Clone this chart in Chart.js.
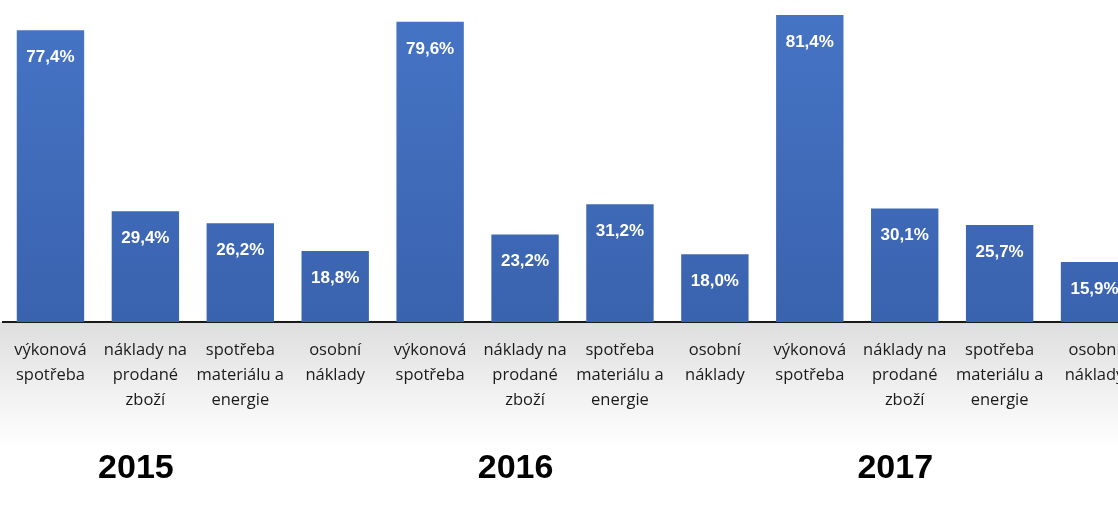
<!DOCTYPE html>
<html>
<head>
<meta charset="utf-8">
<script src="https://cdn.jsdelivr.net/npm/chart.js@4"></script>
<style>
  html, body { margin: 0; padding: 0; background: #fff; overflow: hidden; }
  #wrap { width: 1118px; height: 514px; overflow: hidden; }
</style>
</head>
<body>
<div id="wrap"><canvas id="myChart" width="1142" height="514"></canvas></div>
<script>
const kategorie = [
    ['výkonová', 'spotřeba'],
    ['náklady na', 'prodané', 'zboží'],
    ['spotřeba', 'materiálu a', 'energie'],
    ['osobní', 'náklady'],
    ['výkonová', 'spotřeba'],
    ['náklady na', 'prodané', 'zboží'],
    ['spotřeba', 'materiálu a', 'energie'],
    ['osobní', 'náklady'],
    ['výkonová', 'spotřeba'],
    ['náklady na', 'prodané', 'zboží'],
    ['spotřeba', 'materiálu a', 'energie'],
    ['osobní', 'náklady']
];
const hodnoty = [77.4, 29.4, 26.2, 18.8, 79.6, 23.2, 31.2, 18.0, 81.4, 30.1, 25.7, 15.9];
const roky = ['2015', '2016', '2017'];

const ctx = document.getElementById('myChart');

// sedy prechod pod osou
const pozadi = {
    id: 'pozadi',
    beforeDraw(chart) {
        const c = chart.ctx;
        const a = chart.chartArea;
        const g = c.createLinearGradient(0, a.bottom, 0, a.bottom + 125);
        g.addColorStop(0, '#dedede');
        g.addColorStop(1, '#ffffff');
        c.save();
        c.fillStyle = g;
        c.fillRect(0, a.bottom, chart.width, 125);
        c.restore();
    }
};

// popisky hodnot a roky
const popisky = {
    id: 'popisky',
    afterDraw(chart) {
        const c = chart.ctx;
        const meta = chart.getDatasetMeta(0);
        c.save();
        c.fillStyle = '#ffffff';
        c.font = 'bold 17px "Liberation Sans"';
        c.textAlign = 'center';
        c.textBaseline = 'middle';
        meta.data.forEach((bar, i) => {
            c.fillText(hodnoty[i].toFixed(1).replace('.', ',') + '%', bar.x, bar.y + 27);
        });
        const x = chart.scales.x;
        c.fillStyle = '#000000';
        c.font = 'bold 34px "Liberation Sans"';
        roky.forEach((rok, i) => {
            c.fillText(rok, x.getPixelForValue(i * 4 + 0.9), 469);
        });
        c.restore();
    }
};

new Chart(ctx, {
    type: 'bar',
    data: {
        labels: kategorie,
        datasets: [{
            data: hodnoty,
            backgroundColor: (context) => {
                const a = context.chart.chartArea;
                if (!a) return '#4472c4';
                const g = context.chart.ctx.createLinearGradient(0, a.top, 0, a.bottom);
                g.addColorStop(0, '#4674c6');
                g.addColorStop(1, '#3a63ae');
                return g;
            },
            borderWidth: 0,
            categoryPercentage: 1,
            barPercentage: 0.71
        }]
    },
    options: {
        responsive: false,
        animation: false,
        layout: { padding: { left: 3, right: 0, top: 0, bottom: 0 } },
        plugins: {
            legend: { display: false },
            tooltip: { enabled: false }
        },
        scales: {
            y: {
                display: false,
                min: 0,
                max: 85.4
            },
            x: {
                grid: { display: false },
                border: { display: true, color: '#1a1a1a', width: 2 },
                ticks: {
                    color: '#1a1a1a',
                    padding: 8,
                    maxRotation: 0,
                    autoSkip: false,
                    font: { family: '"Open Sans"', size: 16.5, lineHeight: 1.52 }
                },
                afterFit: (s) => { s.height = 192; }
            }
        }
    },
    plugins: [pozadi, popisky]
});
</script>
</body>
</html>
